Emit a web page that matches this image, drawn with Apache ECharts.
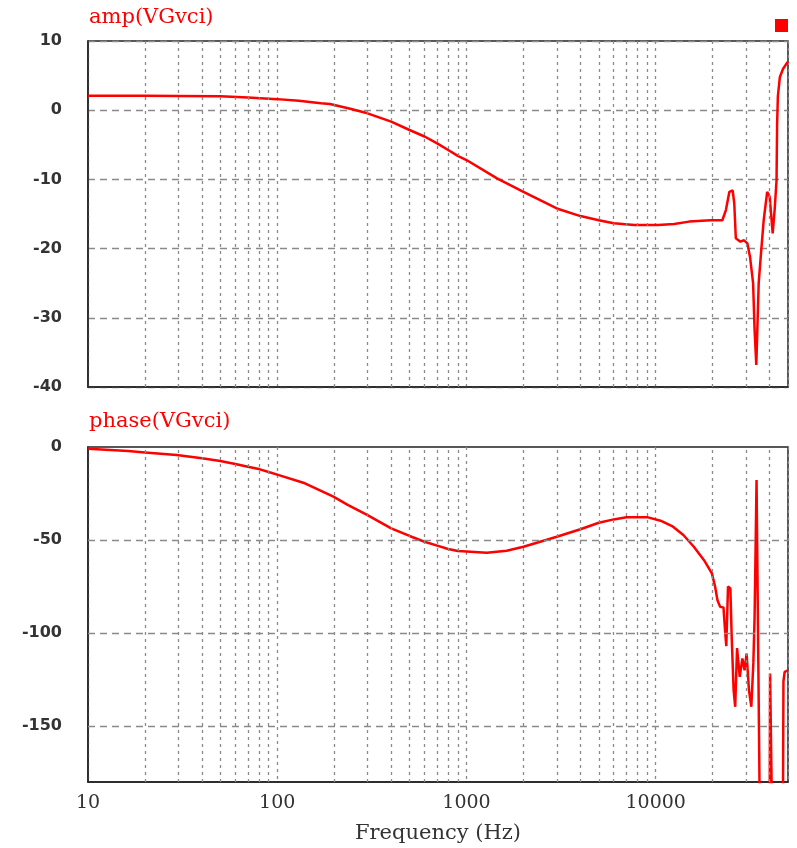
<!DOCTYPE html>
<html>
<head>
<meta charset="utf-8">
<title>VGvci</title>
<script src="https://cdn.jsdelivr.net/npm/echarts@6/dist/echarts.min.js"></script>
<style>
  html, body { margin: 0; padding: 0; background: #fff; }
  #chart { width: 797px; height: 848px; }
</style>
</head>
<body>
<div id="chart"></div>
<script>
// amplitude (dB)
const ampFreq = [10, 20, 30, 50, 70, 100, 130, 170, 190, 240, 300, 400, 500, 600, 700, 800, 900, 1000,
  1450, 2000, 3000, 4000, 5000, 6000, 7700, 10300, 12500, 15000, 19500, 22500, 23500, 24500, 25500,
  26000, 26500, 28000, 29300, 30500, 31500, 32700, 33300, 34000, 35000, 36000, 37200, 38800, 40000,
  41500, 42500, 43500, 43800, 44200, 45300, 47100, 49000, 50000]
const ampValues = [2.1, 2.1, 2.05, 2.0, 1.85, 1.6, 1.37, 1.0, 0.9, 0.25, -0.45, -1.66, -2.86, -3.8, -4.8, -5.75, -6.6, -7.2,
  -9.85, -11.8, -14.2, -15.3, -15.9, -16.35, -16.6, -16.6, -16.45, -16.1, -15.9, -15.9, -14.4, -11.8, -11.6,
  -13.45, -18.5, -19, -18.8, -19.25, -21.2, -25, -31.8, -36.8, -25, -20.7, -15.9, -11.8, -12.5,
  -17.8, -14.4, -10.1, -2, 2, 4.8, 6.0, 6.7, 7.0]

// phase (deg)
const phaseFreq = [10, 16.3, 20, 29.4, 40, 50, 60, 70, 81, 91, 101, 140, 198, 237, 300, 400, 500, 600, 700, 800, 900,
  1000, 1280, 1630, 2000, 3000, 4000, 5000, 6000, 7000, 9100, 10600, 12200, 14000, 15900, 18000, 19800,
  20600, 21200, 21900, 22800, 23300, 23600, 24100, 24800, 25200, 25800, 26300, 26900, 27800, 28700,
  29500, 30200, 31100, 32000, 32800, 33300, 33700, 34100, 34800, 35000, 35500, 40000, 40200, 40700,
  41200, 47000, 47300, 48000, 50000]
const phaseValues = [-1, -2.2, -2.9, -4.3, -6.1, -7.5, -9.1, -10.6, -12, -13.6, -15, -19.5, -26.7, -31.2, -36.6, -43.7, -47.8, -50.9, -53, -54.8, -55.9,
  -56.1, -56.8, -55.7, -53.6, -48.2, -44.2, -40.7, -38.9, -37.8, -37.8, -39.6, -42.5, -47.3, -53.6, -60.8, -67.9,
  -75.1, -82.3, -85.9, -86.2, -100, -107, -75, -76, -102, -130.6, -139.6, -108, -123.5, -113.6,
  -120, -111, -130.6, -139.6, -116, -91, -55, -17.7, -17.7, -136, -200, -200, -121.7, -121.7,
  -200, -200, -126, -120.8, -120]

// grid lines between decades, and phase grid rows
const minorFreqs = [20, 30, 40, 50, 60, 70, 80, 90, 200, 300, 400, 500, 600, 700, 800, 900,
  2000, 3000, 4000, 5000, 6000, 7000, 8000, 9000, 20000, 30000, 40000]
const phaseGrid = [-50, -100, -150]

const red = '#ff0000'
const vLine = { color: '#8a8a8a', width: 1.3, type: [3, 4] }
const hLine = { color: '#8a8a8a', width: 1.3, type: [7, 5] }

const zip = (xs, ys) => xs.map((x, i) => [x, ys[i]])

function minorMarks(extra) {
  return {
    silent: true,
    symbol: 'none',
    label: { show: false },
    animation: false,
    lineStyle: vLine,
    data: minorFreqs.map(f => ({ xAxis: f })).concat(extra || [])
  }
}

const chart = echarts.init(document.getElementById('chart'))

const xCommon = {
  type: 'log',
  logBase: 10,
  min: 10,
  max: 50000,
  axisTick: { show: false },
  axisLine: { onZero: false, lineStyle: { color: '#222', width: 1.5 } },
  splitLine: { show: true, lineStyle: vLine }
}

const yLabel = {
  color: '#333',
  fontFamily: 'DejaVu Sans',
  fontWeight: 'bold',
  fontSize: 16,
  margin: 26
}

const titleStyle = { color: red, fontFamily: 'DejaVu Serif', fontWeight: 'normal', fontSize: 21 }

const options = {
  animation: false,
  title: [
    { text: 'amp(VGvci)', left: 84, top: 2, textStyle: titleStyle },
    { text: 'phase(VGvci)', left: 84, top: 406, textStyle: titleStyle }
  ],
  legend: {
    data: ['amp(VGvci)'],
    right: 4,
    top: 14,
    icon: 'rect',
    itemWidth: 13,
    itemHeight: 13,
    formatter: () => '',
    selectedMode: false
  },
  grid: [
    { left: 88, right: 9, top: 41, height: 346, show: true, borderColor: '#222', borderWidth: 1.5 },
    { left: 88, right: 9, top: 447, height: 335, show: true, borderColor: '#222', borderWidth: 1.5 }
  ],
  xAxis: [
    Object.assign({}, xCommon, { gridIndex: 0, axisLabel: { show: false } }),
    Object.assign({}, xCommon, {
      gridIndex: 1,
      name: 'Frequency (Hz)',
      nameLocation: 'middle',
      nameGap: 41,
      nameTextStyle: { color: '#333', fontFamily: 'DejaVu Serif', fontSize: 21 },
      axisLabel: {
        color: '#333', fontFamily: 'DejaVu Serif', fontSize: 19, margin: 12,
        showMaxLabel: false,
        formatter: v => String(Math.round(v))
      }
    })
  ],
  yAxis: [
    {
      type: 'value', gridIndex: 0, min: -40, max: 10, interval: 10,
      axisTick: { show: false },
      axisLine: { show: true, lineStyle: { color: '#222', width: 1.5 } },
      axisLabel: yLabel,
      splitLine: { show: true, lineStyle: hLine }
    },
    {
      type: 'value', gridIndex: 1, min: -180, max: 0, interval: 10,
      axisTick: { show: false },
      axisLine: { show: true, lineStyle: { color: '#222', width: 1.5 } },
      axisLabel: Object.assign({}, yLabel, {
        formatter: v => (v % 50 === 0 ? String(v) : '')
      }),
      splitLine: { show: false }
    }
  ],
  series: [
    {
      name: 'amp(VGvci)',
      type: 'line',
      xAxisIndex: 0,
      yAxisIndex: 0,
      data: zip(ampFreq, ampValues),
      showSymbol: false,
      color: red,
      lineStyle: { color: red, width: 2.5 },
      markLine: minorMarks()
    },
    {
      name: 'phase(VGvci)',
      type: 'line',
      xAxisIndex: 1,
      yAxisIndex: 1,
      data: zip(phaseFreq, phaseValues),
      showSymbol: false,
      clip: true,
      color: red,
      lineStyle: { color: red, width: 2.5 },
      markLine: minorMarks(phaseGrid.map(v => ({ yAxis: v, lineStyle: hLine })))
    }
  ]
}

chart.setOption(options)

window.addEventListener('resize', chart.resize)
</script>
</body>
</html>
